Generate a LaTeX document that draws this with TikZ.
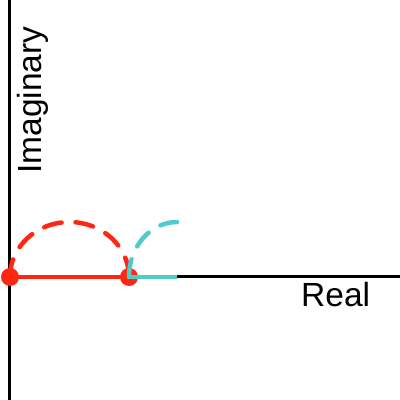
\documentclass[tikz,border=0pt]{standalone}
\usepackage{fontspec}
\setmainfont{Liberation Sans}
\definecolor{myred}{RGB}{255,38,18}
\definecolor{mycyan}{RGB}{82,202,202}
\begin{document}
\begin{tikzpicture}[x=1pt,y=1pt,
  axis/.style={line width=3pt,black},
  redline/.style={line width=4.5pt,myred},
  cyanline/.style={line width=4.5pt,mycyan},
  dashy/.style={line width=4.5pt,line cap=round,dash pattern=on 18pt off 14pt},
  dot/.style={circle,fill=myred,minimum size=18pt,inner sep=0pt},
  lbl/.style={inner sep=0pt,font=\fontsize{33.5}{40}\selectfont}]
\useasboundingbox (0,0) rectangle (400,400);
\coordinate (Top) at (9,400);
\coordinate (Bot) at (9,0);
\coordinate (O) at (9,123);
\coordinate (E) at (400,123);
\coordinate (C) at (177,123);
\draw[axis] (Bot) -- (Top);
\draw[axis] (O) -- (E);
\node[dot] (A) at (10,123) {};
\node[dot] (B) at (129,123) {};
\draw[redline] (A.center) -- (B.center);
\draw[redline,dashy] (A.center) arc[start angle=180,end angle=0,x radius=59.5pt,y radius=55pt];
\draw[cyanline] (B.center) -- (C);
\draw[cyanline,dashy] (B.center) arc[start angle=180,end angle=90,x radius=48pt,y radius=55pt];
\node[lbl,rotate=90,anchor=base west] (im) at (41,226) {Imaginary};
\node[lbl,anchor=base west] (re) at (301,93) {Real};
\end{tikzpicture}
\end{document}
